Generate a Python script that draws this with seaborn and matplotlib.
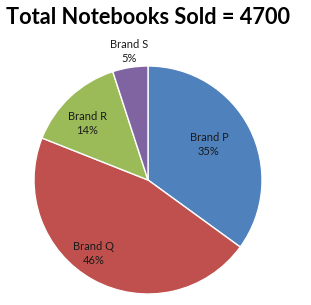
import numpy as np
import matplotlib
matplotlib.use("Agg")
import matplotlib.pyplot as plt
import seaborn as sns

brands = ["Brand P", "Brand Q", "Brand R", "Brand S"]
shares = [35, 46, 14, 5]
colors = ["#4F81BD", "#C0504D", "#9BBB59", "#8064A2"]
title = "Total Notebooks Sold = 4700"

sns.set_style("white")
plt.rcParams['font.family'] = ['Lato', 'DejaVu Sans']

W, H = 311, 305
fig = plt.figure(figsize=(W / 100, H / 100), dpi=100)
ax = fig.add_axes([0, 0, 1, 1])

cx, cy, r = 148, H - 180, 114
wedges, _ = ax.pie(shares, colors=colors, startangle=90, counterclock=False,
                   center=(cx, cy), radius=r, frame=True,
                   wedgeprops=dict(edgecolor='white', linewidth=1.0))
ax.set_xlim(0, W)
ax.set_ylim(0, H)
ax.set_aspect('equal')
ax.axis('off')

# label placement: (angle clockwise from top in degrees, distance as fraction of radius)
label_pos = [(59.5, 0.62), (216.5, 0.80), (313.0, 0.73), (351.6, 1.14)]
for name, val, (ang, d) in zip(brands, shares, label_pos):
    a = np.deg2rad(ang)
    x = cx + d * r * np.sin(a)
    y = cy + d * r * np.cos(a)
    ax.text(x, y, f"{name}\n{val}%", ha='center', va='center', fontsize=8,
            color='#1a1a1a', linespacing=1.35)

fig.text(148 / W, 1 - 17 / H, title, ha='center', va='center', fontsize=15.7,
         fontweight='bold', color='black')

fig.savefig("out.png", dpi=100, facecolor='white')
